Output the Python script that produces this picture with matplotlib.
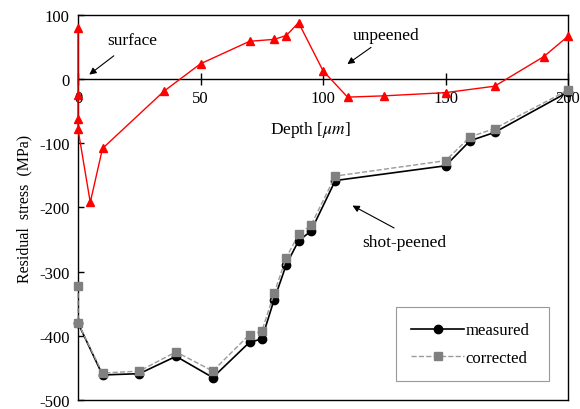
import numpy as np
import matplotlib
matplotlib.use("Agg")
import matplotlib.pyplot as plt

plt.rcParams['font.family'] = ['Liberation Serif', 'DejaVu Serif']
plt.rcParams['mathtext.fontset'] = 'stix'
plt.rcParams['axes.unicode_minus'] = False

# unpeened profile
unpeened_depth = [0, 0, 0, 0, 5, 10, 35, 50, 70, 80, 85, 90, 100, 110, 125, 150, 170, 190, 200]
unpeened_stress = [80, -25, -62, -78, -192, -108, -19, 24, 59, 62, 68, 88, 13, -28, -26, -21, -11, 35, 67]

# shot-peened profile, measured
measured_depth = [0, 10, 25, 40, 55, 70, 75, 80, 85, 90, 95, 105, 150, 160, 170, 200]
measured_stress = [-380, -461, -459, -432, -465, -410, -405, -344, -289, -252, -237, -158, -135, -96, -83, -20]

# shot-peened profile, corrected
corrected_depth = [0, 0, 10, 25, 40, 55, 70, 75, 80, 85, 90, 95, 105, 150, 160, 170, 200]
corrected_stress = [-322, -380, -458, -455, -425, -455, -398, -393, -334, -278, -242, -228, -151, -127, -90, -77, -17]

fig = plt.figure(figsize=(5.8, 4.1), dpi=100)
ax = fig.add_axes([0.1345, 0.022, 0.845, 0.939])

ax.plot(unpeened_depth, unpeened_stress, color='red', lw=1.0, marker='^',
        ms=6, zorder=3, clip_on=False)
ax.plot(measured_depth, measured_stress, color='black', lw=1.2, marker='o',
        ms=6, label='measured', zorder=4, clip_on=False)
ax.plot(corrected_depth, corrected_stress, color='#9a9a9a', lw=1.0, ls='--',
        marker='s', mfc='#808080', mec='#808080', ms=6, label='corrected',
        zorder=5, clip_on=False)

ax.set_xlim(0, 200)
ax.set_ylim(-500, 100)
ax.set_xticks(np.arange(0, 201, 50))
ax.set_yticks(np.arange(-500, 101, 100))

# x axis runs through zero stress; keep a closed frame around the plot
ax.spines['bottom'].set_position(('data', 0))
ax.plot([0, 1], [0, 0], transform=ax.transAxes, color='black', lw=1.0,
        clip_on=False, zorder=6)
for s in ax.spines.values():
    s.set_linewidth(1.0)

ax.tick_params(axis='x', direction='inout', length=8, width=1, pad=4, labelsize=12)
ax.tick_params(axis='y', direction='in', length=4, width=1, pad=6, labelsize=12)

ax.set_ylabel('Residual  stress  (MPa)', fontsize=11.5, labelpad=5)
ax.text(95, -78, r'Depth [$\mu m$]', fontsize=12.5, ha='center', va='center')

arrow = dict(arrowstyle='-|>', color='black', lw=0.8, mutation_scale=10)
ax.annotate('', xy=(3.7, 4.5), xytext=(15.5, 39), arrowprops=arrow)
ax.text(12, 61, 'surface', fontsize=12.5, ha='left', va='center')
ax.annotate('', xy=(109, 21), xytext=(120.5, 52), arrowprops=arrow)
ax.text(112, 69, 'unpeened', fontsize=12.5, ha='left', va='center')
ax.annotate('', xy=(111, -195), xytext=(130, -234), arrowprops=arrow)
ax.text(116, -254, 'shot-peened', fontsize=12.5, ha='left', va='center')

leg = ax.legend(loc='lower left', bbox_to_anchor=(0.649, 0.049, 0.312, 0.203),
                mode='expand', fontsize=12, handlelength=3.2, frameon=True,
                fancybox=False, borderaxespad=0, borderpad=0.9, labelspacing=0.7,
                handletextpad=0.05)
leg.get_frame().set_edgecolor('#808080')
leg.get_frame().set_linewidth(0.8)

fig.savefig('out.png', dpi=100)
